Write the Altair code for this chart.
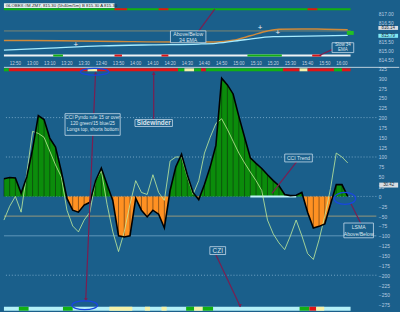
import altair as alt
import pandas as pd

BG = "#1a5f8b"
FONT = "Liberation Sans"
GREEN = "#0b8c0b"
ORANGE = "#ff9122"
RED = "#e01414"
SGREEN = "#12b012"
YELLOW = "#f6f2a8"
CYAN = "#b4f0f8"
MAROON = "#7b1e50"
BOXC = "#c8dcec"
TXT = "#dde6ee"

# ---------------- data ----------------
idx = list(range(61))
cci_trend = [45, 48, 47, 8, 50, 120, 205, 195, 148, 125, 65, -5, -35, -40, -22, -15, 40, 72, 30, -10,
             -100, -103, -100, -5, -35, -52, -35, -45, -80, 15, 75, 107, 55, 10, -8, 30, 75, 130, 300, 283,
             260, 203, 150, 98, 84, 71, 55, 40, 27, 5, 2, 3, 10, -40, -80, -76, -70, -20, 30, 30, 0]
cci_fast = [-60, -25, 0, -40, 60, 165, 160, 150, 115, 80, 50, -35, -75, -90, -60, -40, 40, 65, -20, -90,
            -140, -90, -20, 40, 10, 5, 55, 10, -10, 90, 100, 100, 50, 5, 40, 110, 150, 185, 197, 170,
            140, 110, 85, 62, 40, 15, -60, -95, -118, -135, -100, -60, -100, -145, -160, -110, -50, 20, 110, 100, 85]

time_idx = list(range(2, 60, 3))
time_labels = ["12:50", "13:00", "13:10", "13:20", "13:30", "13:40", "13:50", "14:00", "14:10", "14:20",
               "14:30", "14:40", "14:50", "15:00", "15:10", "15:20", "15:30", "15:40", "15:50", "16:00"]

orange_i = [0, 10, 20, 30, 37, 40, 43, 46, 48, 52, 56, 60]
orange_p = [815.54, 815.53, 815.49, 815.46, 815.46, 815.55, 815.79, 816.05, 816.14, 816.16, 816.14, 816.12]
cyan_i = [0, 8, 17, 26, 34, 37, 42, 47, 53, 60]
cyan_p = [815.02, 815.13, 815.25, 815.31, 815.35, 815.39, 815.58, 815.75, 815.77, 815.81]
price_ref = 816.05
price_ticks = [817.0, 816.5, 815.5, 815.0, 814.5]
cci_ticks = list(range(-275, 326, 25))

# indicator strips (start, end, colour)
cci_top_strip = [(0, 0.86, SGREEN), (0.86, 14.6, RED), (14.6, 16.3, YELLOW), (16.3, 30.4, RED),
                 (30.4, 31.5, SGREEN), (31.5, 33.2, YELLOW), (33.2, 34.4, SGREEN), (34.4, 35.25, RED),
                 (35.25, 48.7, SGREEN), (48.7, 51.6, RED), (51.6, 53.0, YELLOW), (53.0, 57.6, RED),
                 (57.6, 59.0, SGREEN), (59.0, 60.5, RED)]
cci_bot_strip = [(0, 60.5, CYAN), (2.6, 4.3, SGREEN), (10.3, 12.0, SGREEN), (18.4, 22.4, YELLOW),
                 (24.6, 25.5, YELLOW), (27.5, 28.4, YELLOW), (31.8, 33.2, SGREEN), (33.2, 34.7, YELLOW),
                 (34.7, 36.5, SGREEN), (51.6, 53.3, SGREEN), (53.3, 54.5, RED), (54.5, 55.9, YELLOW)]
px_top_strip = [(0, 60.5, SGREEN), (19.3, 21.5, RED), (27.0, 28.7, RED), (53.0, 54.7, RED)]
px_bot_strip = [(0, 60.5, "#eef2f4"), (8.6, 10.3, SGREEN), (42.5, 48.5, SGREEN), (19.3, 20.6, RED),
                (27.5, 28.7, RED), (53.8, 55.4, RED)]

# ---------------- scales ----------------
xs = alt.Scale(domain=[0, 65], nice=False, zero=False)
ysb = alt.Scale(domain=[-290, 345], nice=False, zero=False)
yst = alt.Scale(domain=[814.474, 817.526], nice=False, zero=False)
axb = alt.Axis(orient="right", values=cci_ticks, format="d", labelPadding=2, title=None)
axt = alt.Axis(orient="right", values=price_ticks, format=".2f", labelPadding=2, title=None)


def X(f):
    return alt.X(f, type="quantitative", scale=xs, axis=None)


def YB(f):
    return alt.Y(f, type="quantitative", scale=ysb, axis=axb)


def YT(f):
    return alt.Y(f, type="quantitative", scale=yst, axis=axt)


def strip_df(segs, y0, y1):
    return pd.DataFrame([{"x": a, "x2": b, "y": y0, "y2": y1, "c": c} for a, b, c in segs])


def strip_layer(df, Y):
    return alt.Chart(df).mark_rect().encode(
        x=X("x"), x2="x2", y=Y("y"), y2="y2", color=alt.Color("c:N", scale=None))


def ellipse(x, y, w, h, Y):
    r = h / w
    path = f"M -1 0 A 1 {r:.3f} 0 1 0 1 0 A 1 {r:.3f} 0 1 0 -1 0 Z"
    return alt.Chart(pd.DataFrame({"x": [x], "y": [y]})).mark_point(
        shape=path, size=w * w, filled=False, stroke="#1846e0", strokeWidth=1.3, opacity=1
    ).encode(x=X("x"), y=Y("y"))


# ---------------- bottom (CCI) panel ----------------
rows = []
for i, v in enumerate(cci_trend):
    rows.append((idx[i], v))
    if i < len(cci_trend) - 1:
        w = cci_trend[i + 1]
        if v * w < 0:
            rows.append((idx[i] + v / (v - w), 0.0))
adf = pd.DataFrame(rows, columns=["x", "v"])
adf["pos"] = adf["v"].clip(lower=0)
adf["neg"] = adf["v"].clip(upper=0)
adf["zero"] = 0.0

cdf = pd.DataFrame({"x": idx, "trend": cci_trend, "fast": cci_fast, "zero": 0.0})

pos_area = alt.Chart(adf).mark_area(color=GREEN, opacity=1).encode(x=X("x"), y=YB("pos"), y2="zero")
neg_area = alt.Chart(adf).mark_area(color=ORANGE, opacity=1).encode(x=X("x"), y=YB("neg"), y2="zero")
bars = alt.Chart(cdf).mark_rule(color="#111111", strokeWidth=0.6, opacity=0.75).encode(
    x=X("x"), y=YB("trend"), y2="zero")
outline = alt.Chart(adf).mark_line(color="#000000", strokeWidth=1.6).encode(x=X("x"), y=YB("v"))
fast = alt.Chart(cdf).mark_line(color="#c4ee9c", strokeWidth=0.8).encode(x=X("x"), y=YB("fast"))

dotted = alt.Chart(pd.DataFrame({"y": [200, 100, 0, -200]})).mark_rule(
    color="#9cc4e0", strokeWidth=0.7, strokeDash=[1, 2]).encode(y=YB("y"))
solid_lt = alt.Chart(pd.DataFrame({"y": [-100]})).mark_rule(
    color="#8fbcd8", strokeWidth=0.6).encode(y=YB("y"))
tan = alt.Chart(pd.DataFrame({"y": [-50]})).mark_rule(color="#b9a878", strokeWidth=0.8).encode(y=YB("y"))
zero_seg = alt.Chart(pd.DataFrame({"x": [43.0], "x2": [51.0], "y": [0]})).mark_rule(
    color="#c0f4fa", strokeWidth=2).encode(x=X("x"), x2="x2", y=YB("y"))
sep = alt.Chart(pd.DataFrame({"x": [0], "x2": [69], "y": [327.5]})).mark_rule(
    color="#e8eef2", strokeWidth=0.8).encode(x=X("x"), x2="x2", y=YB("y"))

tl = alt.Chart(pd.DataFrame({"x": time_idx, "t": time_labels, "y": 335})).mark_text(
    font=FONT, fontSize=4.6, color="#c8d4e0").encode(x=X("x"), y=YB("y"), text="t:N")

bboxes = pd.DataFrame([
    {"x": 10.66, "x2": 20.29, "y": 155, "y2": 210},
    {"x": 22.87, "x2": 29.41, "y": 177.5, "y2": 195},
    {"x": 49.01, "x2": 53.83, "y": 87.5, "y2": 107.5},
    {"x": 59.33, "x2": 64.49, "y": -105, "y2": -67.5},
    {"x": 35.94, "x2": 38.69, "y": -147.5, "y2": -127.5},
])
barrows = pd.DataFrame([
    {"x": 15.99, "y": 315, "x2": 14.27, "y2": -265},
    {"x": 26.14, "y": 195, "x2": 26.14, "y2": 315},
    {"x": 51.07, "y": 87.5, "x2": 46.78, "y2": 7.5},
    {"x": 62.25, "y": -67.5, "x2": 60.53, "y2": -17.5},
    {"x": 36.97, "y": -147.5, "x2": 41.27, "y2": -280},
])
btexts = pd.DataFrame([
    {"x": 15.48, "y": 198.75, "t": "CCI Pyndo rule 15 or over", "s": 4.8},
    {"x": 15.48, "y": 183.75, "t": "120 green/15 blue/25", "s": 4.8},
    {"x": 15.48, "y": 168.75, "t": "Longs top, shorts bottom", "s": 4.8},
    {"x": 51.42, "y": 97.5, "t": "CCI Trend", "s": 5.2},
    {"x": 61.91, "y": -77.5, "t": "LSMA", "s": 5.2},
    {"x": 61.91, "y": -95, "t": "Above/Below", "s": 5.2},
    {"x": 37.32, "y": -137.5, "t": "CZI", "s": 6.5},
])
bold_texts = pd.DataFrame([{"x": 26.14, "y": 186.25, "t": "Sidewinder"}])

b_arrow = alt.Chart(barrows).mark_rule(color=MAROON, strokeWidth=1.2).encode(
    x=X("x"), x2="x2", y=YB("y"), y2="y2")
b_box = alt.Chart(bboxes).mark_rect(fill=BG, stroke=BOXC, strokeWidth=0.8).encode(
    x=X("x"), x2="x2", y=YB("y"), y2="y2")
b_text = alt.Chart(btexts).mark_text(font=FONT, color=TXT).encode(
    x=X("x"), y=YB("y"), text="t:N", size=alt.Size("s:Q", scale=None))
b_bold = alt.Chart(bold_texts).mark_text(font=FONT, color=TXT, fontSize=6.5, fontWeight="bold").encode(
    x=X("x"), y=YB("y"), text="t:N")

heads = alt.Chart(pd.DataFrame([
    {"x": 14.3, "y": -262, "s": "triangle-down"},
    {"x": 16.0, "y": 312, "s": "triangle-up"},
    {"x": 26.14, "y": 312, "s": "triangle-up"},
    {"x": 41.2, "y": -277, "s": "triangle-down"},
])).mark_point(filled=True, color=MAROON, size=14, opacity=1).encode(
    x=X("x"), y=YB("y"), shape=alt.Shape("s:N", scale=None))

vbox = alt.Chart(pd.DataFrame({"x": [65.5], "x2": [68.8], "y": [22.5], "y2": [35]})).mark_rect(
    fill="#d8dde2").encode(x=X("x"), x2="x2", y=YB("y"), y2="y2")
vtxt = alt.Chart(pd.DataFrame({"x": [67.15], "y": [28.75], "t": ["30.42"]})).mark_text(
    font=FONT, fontSize=4.5, color="#203040").encode(x=X("x"), y=YB("y"), text="t:N")

bottom = alt.layer(
    strip_layer(strip_df(cci_top_strip, 325, 317.5), YB),
    strip_layer(strip_df(cci_bot_strip, -280, -290), YB),
    dotted, solid_lt, tan,
    pos_area, neg_area, bars, zero_seg, fast, outline, sep, tl,
    b_arrow, b_box, b_text, b_bold, heads,
    ellipse(15.82, 316.25, 29, 7, YB), ellipse(14.1, -276.25, 26, 9, YB), ellipse(59.5, -5, 22, 12, YB),
    vbox, vtxt,
).properties(width=378, height=254)

# ---------------- top (price) panel ----------------
odf = pd.DataFrame({"x": orange_i, "p": orange_p})
cydf = pd.DataFrame({"x": cyan_i, "p": cyan_p})
t_ref = alt.Chart(pd.DataFrame({"x": [0], "x2": [60.5], "y": [price_ref]})).mark_rule(
    color="#a89868", strokeWidth=0.7).encode(x=X("x"), x2="x2", y=YT("y"))
o_line = alt.Chart(odf).mark_line(color="#d08a3a", strokeWidth=1.5, interpolate="monotone").encode(
    x=X("x"), y=YT("p"))
c_line = alt.Chart(cydf).mark_line(color="#a8ecff", strokeWidth=1.3, interpolate="monotone").encode(
    x=X("x"), y=YT("p"))
plus = alt.Chart(pd.DataFrame({"x": [12.55, 44.7, 47.8], "y": [815.316, 816.21, 815.947],
                               "t": ["+", "+", "+"]})).mark_text(
    font=FONT, fontSize=8, color="#f0f0f0").encode(x=X("x"), y=YT("y"), text="t:N")
gbox = alt.Chart(pd.DataFrame({"x": [59.85], "x2": [61.05], "y": [815.84], "y2": [816.05]})).mark_rect(
    fill="#22c022").encode(x=X("x"), x2="x2", y=YT("y"), y2="y2")

tboxes = pd.DataFrame([
    {"x": 29.06, "x2": 35.25, "y": 815.421, "y2": 816.053},
    {"x": 57.27, "x2": 61.05, "y": 814.895, "y2": 815.42},
])
tarrows = pd.DataFrame([
    {"x": 33.88, "y": 816.0, "x2": 36.8, "y2": 817.211},
    {"x": 57.27, "y": 815.053, "x2": 55.03, "y2": 814.737},
])
ttexts = pd.DataFrame([
    {"x": 32.16, "y": 815.868, "t": "Above/Below", "s": 5.2},
    {"x": 32.16, "y": 815.579, "t": "34 EMA", "s": 5.2},
    {"x": 59.16, "y": 815.289, "t": "Slow 34", "s": 4.5},
    {"x": 59.16, "y": 815.026, "t": "EMA", "s": 4.5},
])
t_arrow = alt.Chart(tarrows).mark_rule(color=MAROON, strokeWidth=1.2).encode(
    x=X("x"), x2="x2", y=YT("y"), y2="y2")
t_box = alt.Chart(tboxes).mark_rect(fill=BG, stroke=BOXC, strokeWidth=0.8).encode(
    x=X("x"), x2="x2", y=YT("y"), y2="y2")
t_text = alt.Chart(ttexts).mark_text(font=FONT, color=TXT).encode(
    x=X("x"), y=YT("y"), text="t:N", size=alt.Size("s:Q", scale=None))
title_bg = alt.Chart(pd.DataFrame({"x": [0], "x2": [19.3], "y": [817.526], "y2": [817.27]})).mark_rect(
    fill="#e6eef0").encode(x=X("x"), x2="x2", y=YT("y"), y2="y2")
title = alt.Chart(pd.DataFrame({"x": [0.3], "y": [817.40],
                                "t": ["GLOBEX:#M.ZM7, 815.30 (5h40m/5m) B 815.30 A 815.30"]})).mark_text(
    font=FONT, fontSize=4.4, color="#202020", align="left").encode(x=X("x"), y=YT("y"), text="t:N")
rboxes = alt.Chart(pd.DataFrame([
    {"x": 65.35, "x2": 68.79, "y": 816.105, "y2": 816.316, "c": "#d8dde2"},
    {"x": 65.35, "x2": 68.79, "y": 815.684, "y2": 815.895, "c": "#7fe8f4"},
])).mark_rect().encode(x=X("x"), x2="x2", y=YT("y"), y2="y2", color=alt.Color("c:N", scale=None))
rtext = alt.Chart(pd.DataFrame({"x": [67.07, 67.07], "y": [816.21, 815.79], "t": ["816.14", "815.79"]})).mark_text(
    font=FONT, fontSize=4.5, color="#203040").encode(x=X("x"), y=YT("y"), text="t:N")

top = alt.layer(
    strip_layer(strip_df(px_top_strip, 817.263, 817.158), YT),
    strip_layer(strip_df(px_bot_strip, 814.789, 814.684), YT),
    t_ref, o_line, c_line, plus, gbox, t_arrow, t_box, t_text, title_bg, title, rboxes, rtext,
).properties(width=378, height=58)

chart = alt.vconcat(top, bottom, spacing=0).properties(
    padding=0, bounds="flush", background=BG
).configure_view(strokeWidth=0).configure_axis(
    grid=False, ticks=False, domain=False, labelFont=FONT, labelFontSize=5, labelColor="#b8cce0"
)

chart.save("out.html", embed_options={"renderer": "svg", "actions": False})
